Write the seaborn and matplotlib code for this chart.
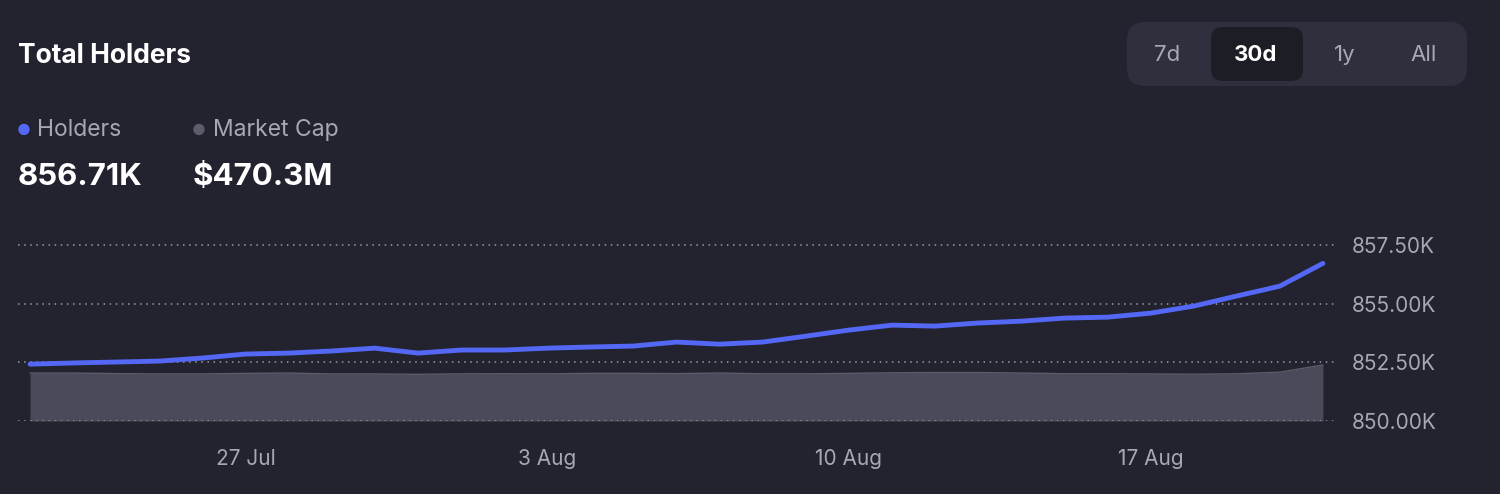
import matplotlib
matplotlib.use("Agg")
import matplotlib.pyplot as plt
import matplotlib.dates as mdates
from matplotlib.patches import FancyBboxPatch
import seaborn as sns
import pandas as pd

dates = pd.date_range("2024-07-22", "2024-08-21", freq="D")
holders_k = [852.42, 852.47, 852.51, 852.55, 852.68, 852.85, 852.89, 852.98, 853.10, 852.89,
             853.02, 853.02, 853.10, 853.15, 853.19, 853.36, 853.27, 853.36, 853.61, 853.87,
             854.08, 854.04, 854.17, 854.25, 854.38, 854.42, 854.59, 854.89, 855.32, 855.74,
             856.71]
market_cap_m = [403, 403, 398, 395, 395, 400, 403, 395, 395, 392, 396, 397, 396, 400, 400, 398, 403,
                396, 396, 400, 405, 407, 407, 403, 397, 397, 395, 393, 396, 410, 470.3]
ticks_y = [850.0, 852.5, 855.0, 857.5]
tick_dates = ["2024-07-27", "2024-08-03", "2024-08-10", "2024-08-17"]
tick_labels = ["27 Jul", "3 Aug", "10 Aug", "17 Aug"]
buttons = ["7d", "30d", "1y", "All"]

BG = "#22232e"
sns.set_theme(style="dark")
plt.rcParams['font.family'] = ['Inter', 'DejaVu Sans']
W, H = 1500, 494
fig = plt.figure(figsize=(15, 4.94), dpi=100, facecolor=BG)

ax = fig.add_axes([18/W, 73/H, (1335-18)/W, 195/H])
ax.set_facecolor("none")
ax2 = ax.twinx()
ax.set_zorder(2); ax2.set_zorder(1)
ax2.set_facecolor(BG)
df = pd.DataFrame({"date": dates, "holders": holders_k, "mcap": market_cap_m})

ax2.fill_between(df["date"], 0, df["mcap"], color="#4a4b5a", lw=0)
ax2.plot(df["date"], df["mcap"], color="#5c5d6b", lw=1)
ax2.set_ylim(0, 470.3 * 195 / 56)
ax2.set_yticks([])

sns.lineplot(data=df, x="date", y="holders", ax=ax, color="#5468f5", lw=3.5)
d0 = mdates.date2num(dates[0])
ax.set_xlim(d0 - 0.28, d0 + 30.28)
ax.set_ylim(850, 858.3)
for v in ticks_y:
    ax.axhline(v, color="#9a9aa6", lw=1.1, ls=(0, (1, 3)), zorder=0)
ax.set_yticks(ticks_y)
ax.set_yticklabels([f"{v:.2f}K" for v in ticks_y])
ax.yaxis.tick_right()
ax.tick_params(axis="y", length=0, pad=12, labelsize=15, labelcolor="#a8a8b2")
ax.set_xticks([mdates.date2num(pd.Timestamp(d)) for d in tick_dates])
ax.set_xticklabels(tick_labels)
ax.tick_params(axis="x", length=0, pad=20, labelsize=15, labelcolor="#a8a8b2")
ax.set_xlabel(""); ax.set_ylabel("")
ax.grid(False)
for a in (ax, ax2):
    for s in a.spines.values():
        s.set_visible(False)

def fy(y):
    return 1 - y / H

fig.text(18/W, fy(56), "Total Holders", color="white", fontsize=19, weight="bold", va="center")
fig.text(17/W, fy(130), "●", color="#5468f5", fontsize=11, va="center")
fig.text(37/W, fy(130), "Holders", color="#a8a8b2", fontsize=16.5, va="center")
fig.text(192/W, fy(130), "●", color="#5c5d6b", fontsize=11, va="center")
fig.text(213/W, fy(130), "Market Cap", color="#a8a8b2", fontsize=16.5, va="center")
fig.text(18/W, fy(177), "856.71K", color="white", fontsize=22.5, weight="bold", va="center")
fig.text(193/W, fy(177), "$470.3M", color="white", fontsize=22.5, weight="bold", va="center")

fig.patches.append(FancyBboxPatch((1127/W, fy(86)), 340/W, 64/H, boxstyle="round,pad=0,rounding_size=0.012",
                                  transform=fig.transFigure, fc="#2f303d", ec="none", mutation_aspect=W/H))
fig.patches.append(FancyBboxPatch((1211/W, fy(81)), 92/W, 54/H, boxstyle="round,pad=0,rounding_size=0.008",
                                  transform=fig.transFigure, fc="#1c1d25", ec="none", mutation_aspect=W/H))
for x, b in zip([1167, 1256, 1345, 1424], buttons):
    sel = b == "30d"
    fig.text(x/W, fy(55), b, color="white" if sel else "#a8a8b2", fontsize=16,
             weight="bold" if sel else "normal", ha="center", va="center")

fig.savefig("out.png", facecolor=BG)
